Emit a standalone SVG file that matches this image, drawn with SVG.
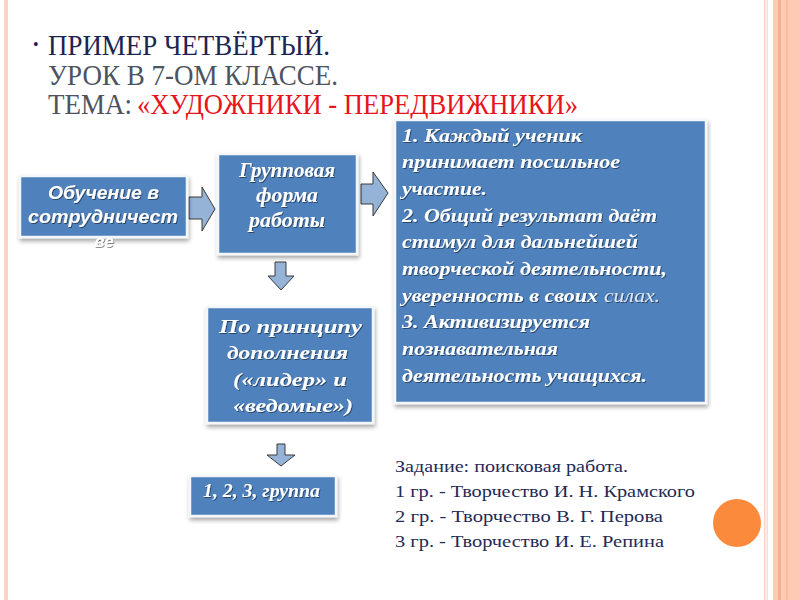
<svg xmlns="http://www.w3.org/2000/svg" width="800" height="600" viewBox="0 0 800 600">
<defs>
<filter id="sh" x="-10%" y="-10%" width="125%" height="130%">
<feDropShadow dx="1" dy="3" stdDeviation="2" flood-color="#000" flood-opacity="0.35"/>
</filter>
<filter id="ts" x="-5%" y="-20%" width="110%" height="140%">
<feDropShadow dx="1" dy="1" stdDeviation="0.6" flood-color="#000" flood-opacity="0.45"/>
</filter>
<style>
.box{fill:#4f81bd;stroke:#f4f6f9;stroke-width:2.5;filter:url(#sh)}
.ser{font-family:"Liberation Serif","Times New Roman",serif;font-weight:bold;font-style:italic;fill:#ffffff;filter:url(#ts)}
.san{font-family:"Liberation Sans",Arial,sans-serif;font-weight:bold;font-style:italic;fill:#ffffff;filter:url(#ts)}
.arr{fill:#95b3d7;stroke:#3a3a3a;stroke-width:1;stroke-linejoin:miter}
.title{font-family:"Liberation Serif","Times New Roman",serif;font-size:29px}
.task{font-family:"Liberation Serif","Times New Roman",serif;font-size:17px;fill:#1f2a56}
</style>
</defs>
<rect x="0" y="0" width="800" height="600" fill="#ffffff"/>
<g id="frame">
<rect x="4" y="0" width="4" height="600" fill="#fcd2c2"/>
<rect x="764" y="0" width="1.5" height="600" fill="#fbd3c3"/>
<rect x="766.5" y="0" width="1.5" height="600" fill="#fcdccf"/>
<rect x="773" y="0" width="27" height="600" fill="#fdcab4"/>
<rect x="778" y="0" width="3" height="600" fill="#f5b092"/>
<rect x="786" y="0" width="2" height="600" fill="#f8bca2"/>
<circle cx="737" cy="523" r="24" fill="#fb8a3c"/>
</g>
<g id="title">
<text class="title" x="33" y="50" style="font-size:16px" fill="#1c2451">•</text>
<text class="title" x="48" y="55" fill="#1c2451" textLength="282" lengthAdjust="spacingAndGlyphs">ПРИМЕР ЧЕТВЁРТЫЙ.</text>
<text class="title" x="48" y="85" fill="#4d5360" textLength="290" lengthAdjust="spacingAndGlyphs">УРОК В 7-ОМ КЛАССЕ.</text>
<text class="title" x="48" y="114" fill="#4d5360" textLength="84" lengthAdjust="spacingAndGlyphs">ТЕМА:</text>
<text class="title" x="137" y="114" fill="#e8141b" textLength="441" lengthAdjust="spacingAndGlyphs">«ХУДОЖНИКИ - ПЕРЕДВИЖНИКИ»</text>
</g>
<g id="connectors">
<path class="arr" d="M189,197 H202 V187 L215,209 L202,231 V219 H189 Z"/>
<path class="arr" d="M361,184 H373 V172 L388,193 L373,216 V204 H361 Z"/>
<path class="arr" d="M275,262 H286 V276 H294 L281,290 L268,276 H275 Z"/>
<path class="arr" d="M277,444 H285 V455 H295 L281,466 L267,455 H277 Z"/>
</g>
<g id="node-obuchenie">
<rect class="box" x="20" y="176" width="167" height="61"/>
<text class="san" font-size="18" x="48" y="199" textLength="111" lengthAdjust="spacingAndGlyphs">Обучение в</text>
<text class="san" font-size="18" x="28" y="223" textLength="150" lengthAdjust="spacingAndGlyphs">сотрудничест</text>
<text class="san" font-size="17" text-anchor="middle" x="104" y="247">ве</text>
</g>
<g id="node-gruppovaya">
<rect class="box" x="218" y="154" width="139" height="100"/>
<text class="ser" font-size="20" x="239" y="177" textLength="96" lengthAdjust="spacingAndGlyphs">Групповая</text>
<text class="ser" font-size="20" x="256" y="202" textLength="62" lengthAdjust="spacingAndGlyphs">форма</text>
<text class="ser" font-size="20" x="249" y="227" textLength="76" lengthAdjust="spacingAndGlyphs">работы</text>
</g>
<g id="node-principle">
<rect class="box" x="207" y="307" width="166" height="116"/>
<text class="ser" font-size="19" x="219" y="333" textLength="143" lengthAdjust="spacingAndGlyphs">По принципу</text>
<text class="ser" font-size="19" x="227" y="359" textLength="121" lengthAdjust="spacingAndGlyphs">дополнения</text>
<text class="ser" font-size="19" x="233" y="386" textLength="114" lengthAdjust="spacingAndGlyphs">(«лидер» и</text>
<text class="ser" font-size="19" x="233" y="412" textLength="120" lengthAdjust="spacingAndGlyphs">«ведомые»)</text>
</g>
<g id="node-groups">
<rect class="box" x="190" y="476" width="146" height="40"/>
<text class="ser" font-size="19" x="203" y="497" textLength="117" lengthAdjust="spacingAndGlyphs">1, 2, 3, группа</text>
</g>
<g id="node-results">
<rect class="box" x="395" y="120" width="311" height="283"/>
<text class="ser" font-size="19" x="402" y="142" textLength="180" lengthAdjust="spacingAndGlyphs">1. Каждый ученик</text>
<text class="ser" font-size="19" x="402" y="168" textLength="218" lengthAdjust="spacingAndGlyphs">принимает посильное</text>
<text class="ser" font-size="19" x="402" y="195" textLength="85" lengthAdjust="spacingAndGlyphs">участие.</text>
<text class="ser" font-size="19" x="402" y="222" textLength="255" lengthAdjust="spacingAndGlyphs">2. Общий результат даёт</text>
<text class="ser" font-size="19" x="402" y="248" textLength="236" lengthAdjust="spacingAndGlyphs">стимул для дальнейшей</text>
<text class="ser" font-size="19" x="402" y="275" textLength="265" lengthAdjust="spacingAndGlyphs">творческой деятельности,</text>
<text class="ser" font-size="19" x="402" y="302" textLength="196" lengthAdjust="spacingAndGlyphs">уверенность в своих</text>
<text class="ser" font-size="19" x="604" y="302" style="font-weight:normal;fill:#dfe7f3" textLength="56" lengthAdjust="spacingAndGlyphs">силах.</text>
<text class="ser" font-size="19" x="402" y="328" textLength="188" lengthAdjust="spacingAndGlyphs">3. Активизируется</text>
<text class="ser" font-size="19" x="402" y="355" textLength="156" lengthAdjust="spacingAndGlyphs">познавательная</text>
<text class="ser" font-size="19" x="402" y="382" textLength="245" lengthAdjust="spacingAndGlyphs">деятельность учащихся.</text>
</g>
<g id="task">
<text class="task" x="395" y="472" textLength="233" lengthAdjust="spacingAndGlyphs">Задание: поисковая работа.</text>
<text class="task" x="395" y="497" textLength="300" lengthAdjust="spacingAndGlyphs">1 гр. - Творчество И. Н. Крамского</text>
<text class="task" x="395" y="522" textLength="268" lengthAdjust="spacingAndGlyphs">2 гр. - Творчество В. Г. Перова</text>
<text class="task" x="395" y="547" textLength="269" lengthAdjust="spacingAndGlyphs">3 гр. - Творчество И. Е. Репина</text>
</g>
</svg>
